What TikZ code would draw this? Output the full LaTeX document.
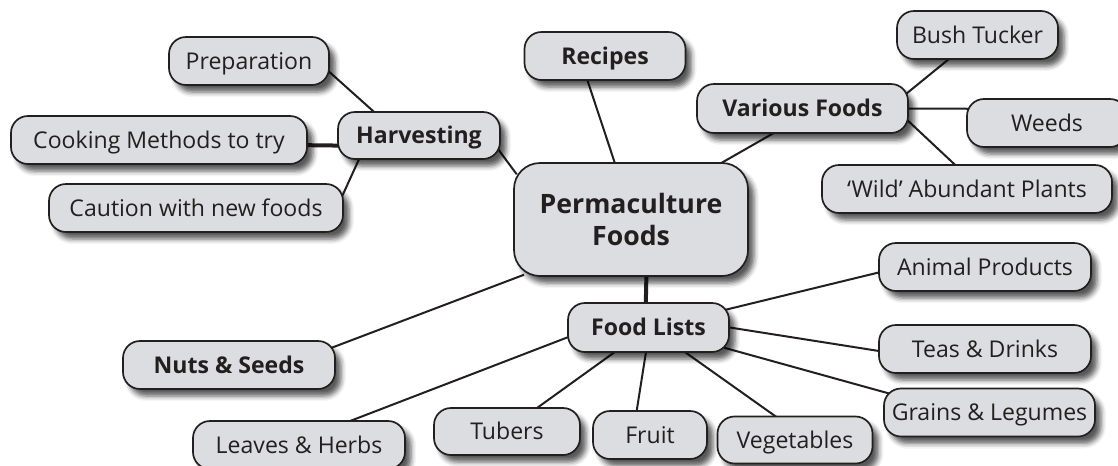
\documentclass[tikz,border=0pt]{standalone}
\usepackage{fontspec}
\setmainfont{Open Sans}
\usetikzlibrary{shadows.blur}

\newlength{\du}
\setlength{\du}{0.75pt}

\definecolor{inkcolor}{rgb}{0.137,0.122,0.125}
\definecolor{bubblefill}{rgb}{0.863,0.867,0.878}

\pgfdeclarelayer{background}
\pgfsetlayers{background,main}

\tikzset{
  bubblebase/.style={draw=inkcolor, fill=bubblefill, line width=1.7\du,
    rounded corners=17\du, minimum height=48\du, inner sep=0pt, text=inkcolor,
    blur shadow={shadow xshift=6\du, shadow yshift=-7\du,
      shadow blur radius=5\du, shadow opacity=65}},
  bubble/.style={bubblebase, font=\fontsize{17.3}{20}\selectfont,
    text height=12.3pt, text depth=0pt},
  topic/.style={bubble, font=\fontsize{17.3}{20}\selectfont\bfseries},
  hub/.style={bubblebase, rounded corners=26\du, align=center,
    font=\fontsize{20}{24}\selectfont\bfseries},
  link/.style={draw=inkcolor, line width=2\du, shorten <=-6\du, shorten >=-6\du},
  trunk/.style={link, line width=4\du},
}

\begin{document}
\begin{tikzpicture}
\pgftransformyscale{-1.000000}
\useasboundingbox (0\du,0\du) rectangle (1118\du,465\du);
% centre
\node[hub, minimum width=234\du, minimum height=113\du] (perm) at (631\du,219.5\du) {Permaculture\\Foods};
% harvesting branch
\node[topic, minimum width=162\du, minimum height=47\du] (harv) at (419\du,135.5\du) {Harvesting};
\node[bubble, minimum width=160\du] (prep) at (249\du,61\du) {Preparation};
\node[bubble, minimum width=296\du] (cook) at (159\du,140\du) {Cooking Methods to try};
\node[bubble, minimum width=294\du] (caut) at (196\du,208\du) {Caution with new foods};
\node[topic, minimum width=161\du] (recipes) at (605\du,56\du) {Recipes};
% various foods branch
\node[topic, minimum width=211\du, minimum height=49\du] (various) at (802.5\du,108.5\du) {Various Foods};
\node[bubble, minimum width=161\du] (bush) at (977.5\du,35\du) {Bush Tucker};
\node[bubble, minimum width=160\du] (weeds) at (1047\du,123\du) {Weeds};
\node[bubble, minimum width=290\du] (wild) at (967\du,189\du) {`Wild' Abundant Plants};
\node[topic, minimum width=212\du] (nuts) at (229\du,365\du) {Nuts \& Seeds};
% food lists branch
\node[topic, minimum width=161\du, minimum height=49\du] (food) at (648.5\du,327.5\du) {Food Lists};
\node[bubble, minimum width=212\du] (animal) at (985\du,267\du) {Animal Products};
\node[bubble, minimum width=212\du] (teas) at (985\du,349\du) {Teas \& Drinks};
\node[bubble, minimum width=211\du] (grains) at (989.5\du,412.5\du) {Grains \& Legumes};
\node[bubble, minimum width=155\du, minimum height=47\du] (veg) at (795\du,440\du) {Vegetables};
\node[bubble, minimum width=114\du] (fruit) at (650\du,435\du) {Fruit};
\node[bubble, minimum width=146\du, minimum height=47\du] (tubers) at (507\du,431.5\du) {Tubers};
\node[bubble, minimum width=212\du] (leaves) at (299\du,445\du) {Leaves \& Herbs};

\begin{pgfonlayer}{background}
\draw[link] (prep.-8) -- (harv.152);
\draw[trunk] (cook.-2) -- (harv.187);
\draw[link] (caut.6) -- (harv.202);
\draw[link] (harv.-12) -- (perm.157);
\draw[link] (recipes.235) -- (perm.106);
\draw[link] (various.220) -- (perm.32);
\draw[link] (various.9) -- (bush.220);
\draw[link] (various.0) -- (weeds.170);
\draw[link] (various.-7) -- (wild.117);
\draw[link] (perm.207) -- (nuts.10);
\draw[trunk] (perm.-75) -- (food.96);
\draw[link] (food.13) -- (animal.183);
\draw[link] (food.0) -- (teas.181);
\draw[link] (food.-15) -- (grains.169);
\draw[link] (food.-34) -- (veg.130);
\draw[link] (food.-96) -- (fruit.118);
\draw[link] (food.216) -- (tubers.38);
\draw[link] (food.187) -- (leaves.25);
\end{pgfonlayer}
\end{tikzpicture}
\end{document}
